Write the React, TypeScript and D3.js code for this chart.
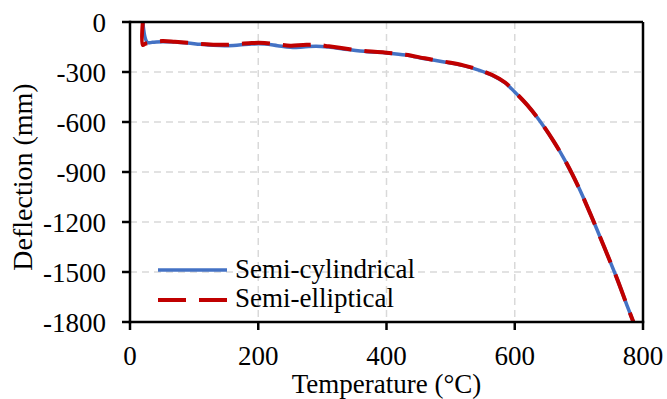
import React from "react";
import * as d3 from "d3";

const cylTemp = [20, 27, 35, 50, 70, 90, 110, 130, 150, 170, 190, 210, 230, 250, 270, 290, 310, 340, 370, 400, 430, 460, 490, 520, 545, 565, 585, 600, 620, 640, 660, 680, 700, 720, 740, 760, 775, 785];
const cylDefl = [0, -122, -122, -118, -120, -126, -134, -140, -142, -138, -132, -132, -142, -152, -150, -145, -150, -165, -178, -186, -198, -220, -240, -262, -290, -320, -365, -420, -500, -598, -712, -842, -995, -1170, -1355, -1545, -1700, -1800];

const ellTemp = [20, 20, 24, 35, 50, 70, 90, 110, 130, 150, 170, 190, 210, 230, 250, 270, 290, 310, 340, 370, 400, 430, 460, 490, 520, 545, 565, 585, 600, 620, 640, 660, 680, 700, 720, 740, 760, 775, 785];
const ellDefl = [0, -138, -130, -122, -114, -118, -124, -132, -136, -137, -132, -126, -126, -134, -142, -138, -136, -146, -162, -176, -184, -196, -218, -238, -260, -288, -318, -363, -419, -500, -598, -712, -842, -995, -1170, -1355, -1545, -1700, -1800];

const xTicks = [0, 200, 400, 600, 800];
const yTicks = [0, -300, -600, -900, -1200, -1500, -1800];
const seriesNames = ["Semi-cylindrical", "Semi-elliptical"];

const FONT = "'Liberation Serif', 'Times New Roman', Times, serif";

export default function App() {
  const left = 130, right = 643, top = 22, bottom = 322;
  const x = d3.scaleLinear().domain([0, 800]).range([left, right]);
  const y = d3.scaleLinear().domain([-1800, 0]).range([bottom, top]);
  const line = d3
    .line<[number, number]>()
    .x((d) => x(d[0]))
    .y((d) => y(d[1]))
    .curve(d3.curveCatmullRom.alpha(0.5));
  const cyl = cylTemp.map((t, i) => [t, cylDefl[i]] as [number, number]);
  const ell = ellTemp.map((t, i) => [t, ellDefl[i]] as [number, number]);
  const ts = { fontFamily: FONT, fontSize: "27px" };

  return (
    <svg
      width={667}
      height={399}
      style={{ position: "absolute", left: 0, top: 0, background: "#fff", fontFamily: FONT }}
    >
      <rect x={0} y={0} width={667} height={399} fill="#fff" />
      {xTicks.filter((t) => t > 0 && t < 800).map((t) => (
        <line key={"gx" + t} x1={x(t)} x2={x(t)} y1={top} y2={bottom} stroke="#d9d9d9" strokeWidth={1.5} strokeDasharray="7 5" />
      ))}
      {yTicks.filter((t) => t < 0 && t > -1800).map((t) => (
        <line key={"gy" + t} x1={left} x2={right} y1={y(t)} y2={y(t)} stroke="#d9d9d9" strokeWidth={1.5} strokeDasharray="7 5" />
      ))}
      <path d={line(cyl) || ""} fill="none" stroke="#4472C4" strokeWidth={3.5} strokeLinejoin="round" />
      <path d={line(ell) || ""} fill="none" stroke="#C00000" strokeWidth={4} strokeDasharray="28 13" strokeLinejoin="round" />
      <line x1={left} x2={right} y1={top} y2={top} stroke="#000" strokeWidth={2.5} />
      <line x1={right} x2={right} y1={top} y2={bottom} stroke="#000" strokeWidth={2.5} />
      <line x1={left} x2={left} y1={top - 1.25} y2={bottom + 1.25} stroke="#000" strokeWidth={2.5} />
      <line x1={left - 1.25} x2={right + 1.25} y1={bottom} y2={bottom} stroke="#000" strokeWidth={2.5} />
      {yTicks.map((t) => (
        <g key={"yt" + t}>
          <line x1={left - 8} x2={left} y1={y(t)} y2={y(t)} stroke="#000" strokeWidth={2.5} />
          <text x={106} y={y(t) + 9.5} textAnchor="end" style={ts} fill="#000">
            {String(t)}
          </text>
        </g>
      ))}
      {xTicks.map((t) => (
        <g key={"xt" + t}>
          <line x1={x(t)} x2={x(t)} y1={bottom} y2={bottom + 8} stroke="#000" strokeWidth={2.5} />
          <text x={x(t)} y={365} textAnchor="middle" style={ts} fill="#000">
            {String(t)}
          </text>
        </g>
      ))}
      <text x={(left + right) / 2} y={393} textAnchor="middle" style={ts} fill="#000">
        Temperature (°C)
      </text>
      <text transform="translate(32, 177) rotate(-90)" textAnchor="middle" style={{ fontFamily: FONT, fontSize: "28px" }} fill="#000">
        Deflection (mm)
      </text>
      <line x1={158} x2={227} y1={270} y2={270} stroke="#4472C4" strokeWidth={3.5} />
      <text x={235} y={277.5} style={ts} fill="#000">{seriesNames[0]}</text>
      <line x1={158} x2={227} y1={300} y2={300} stroke="#C00000" strokeWidth={4} strokeDasharray="28 13" />
      <text x={235} y={306.5} style={ts} fill="#000">{seriesNames[1]}</text>
    </svg>
  );
}
